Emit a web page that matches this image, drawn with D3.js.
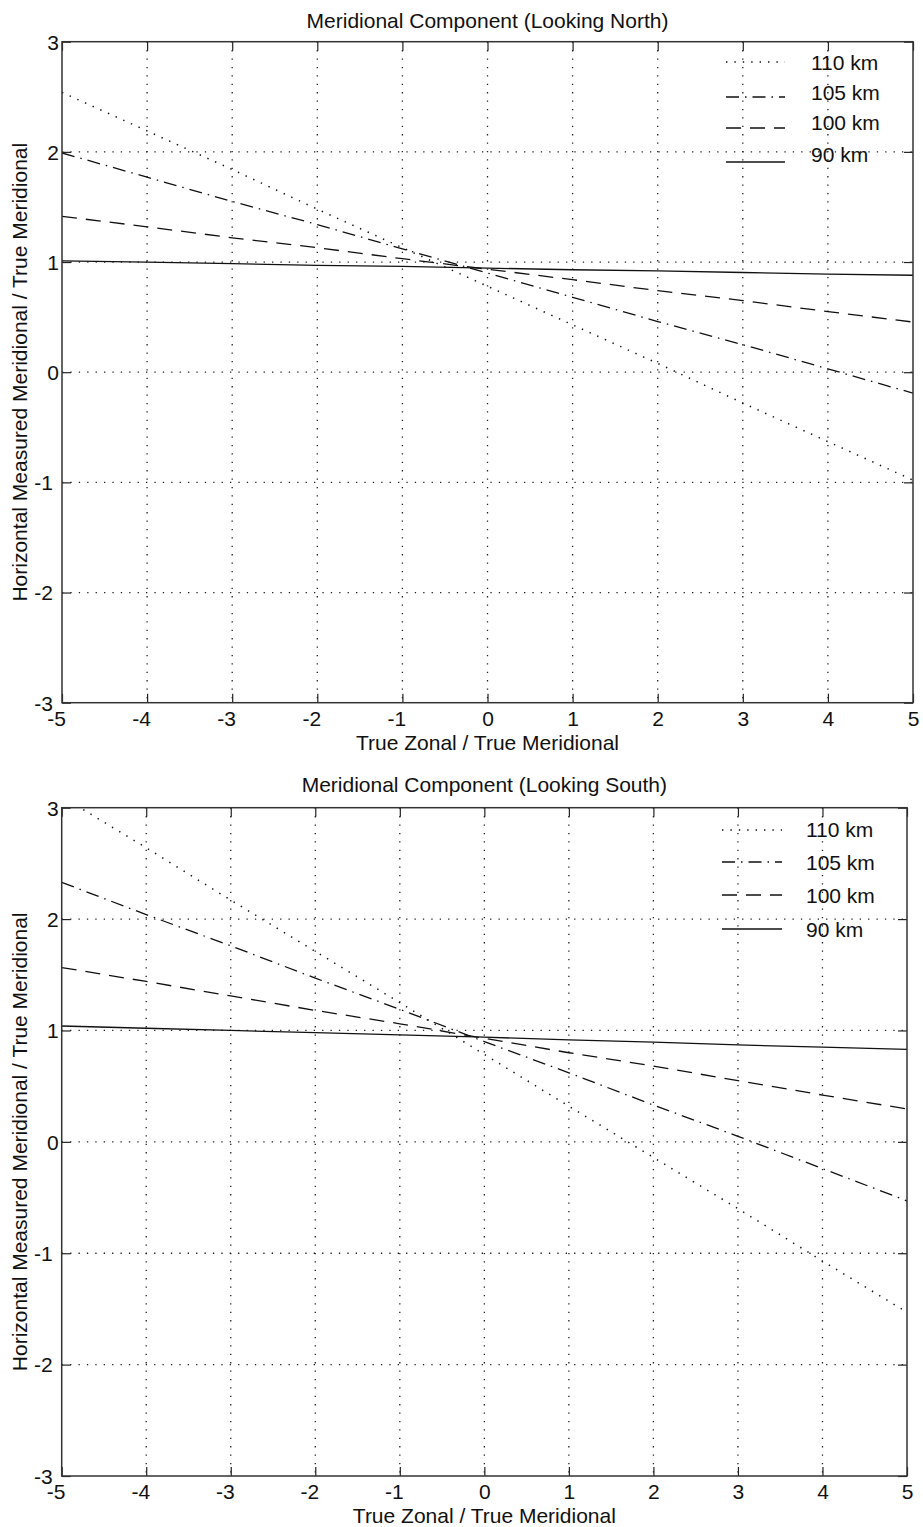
<!DOCTYPE html>
<html>
<head>
<meta charset="utf-8">
<script src="https://cdn.jsdelivr.net/npm/d3@7/dist/d3.min.js"></script>
<style>
  html, body { margin: 0; padding: 0; background: #fff; }
  svg { display: block; }
  text { font-family: "Liberation Sans", Arial, Helvetica, sans-serif; fill: #111; }
</style>
</head>
<body>
<svg id="chart" width="923" height="1527"></svg>
<script>
// Ratio of true zonal to true meridional wind (x axis)
const zonalRatio = [-5, -4, -3, -2, -1, 0, 1, 2, 3, 4, 5];
const xTicks = [-5, -4, -3, -2, -1, 0, 1, 2, 3, 4, 5];
const yTicks = [-3, -2, -1, 0, 1, 2, 3];
const altitudes = ["110 km", "105 km", "100 km", "90 km"];

// Looking north: measured / true meridional for each altitude
const north110 = [2.54, 2.19, 1.84, 1.48, 1.13, 0.78, 0.43, 0.08, -0.28, -0.63, -0.98];
const north105 = [1.99, 1.77, 1.55, 1.34, 1.12, 0.90, 0.68, 0.46, 0.25, 0.03, -0.19];
const north100 = [1.415, 1.32, 1.22, 1.13, 1.03, 0.935, 0.84, 0.74, 0.65, 0.55, 0.455];
const north90  = [1.01, 1.00, 0.985, 0.97, 0.96, 0.945, 0.93, 0.92, 0.905, 0.89, 0.88];

// Looking south
const south110 = [3.10, 2.64, 2.17, 1.71, 1.25, 0.785, 0.32, -0.14, -0.60, -1.07, -1.53];
const south105 = [2.33, 2.04, 1.76, 1.47, 1.19, 0.90, 0.62, 0.33, 0.05, -0.24, -0.53];
const south100 = [1.565, 1.44, 1.31, 1.18, 1.06, 0.93, 0.80, 0.68, 0.55, 0.42, 0.295];
const south90  = [1.04, 1.02, 1.00, 0.98, 0.96, 0.94, 0.915, 0.895, 0.87, 0.85, 0.83];

const titles = ["Meridional Component (Looking North)", "Meridional Component (Looking South)"];
const xLabel = "True Zonal / True Meridional";
const yLabel = "Horizontal Measured Meridional / True Meridional";

// line dash styles per altitude: dotted, dash-dot, dashed, solid
const dashes = ["1.4,7", "13,6,1.5,6", "15,9", null];

const panels = [
  { title: titles[0], series: [north110, north105, north100, north90],
    box: { left: 62, right: 913, top: 41.7, bottom: 702.7 },
    titleY: 28, legendX: [726, 785], legendTextX: 811,
    legendLineY: [62, 97, 128, 162], legendTextY: [70, 100, 130, 162] },
  { title: titles[1], series: [south110, south105, south100, south90],
    box: { left: 61.7, right: 907, top: 807.7, bottom: 1476 },
    titleY: 792, legendX: [722, 782], legendTextX: 806,
    legendLineY: [830, 862, 895, 929], legendTextY: [837, 870, 903, 937] }
];

const svg = d3.select("#chart");
const FS = 21;

panels.forEach((p, pi) => {
  const b = p.box;
  const x = d3.scaleLinear().domain([-5, 5]).range([b.left, b.right]);
  const y = d3.scaleLinear().domain([-3, 3]).range([b.bottom, b.top]);
  const g = svg.append("g");

  const clipId = "clip" + pi;
  g.append("clipPath").attr("id", clipId)
    .append("rect").attr("x", b.left).attr("y", b.top)
    .attr("width", b.right - b.left).attr("height", b.bottom - b.top);

  // dotted grid
  const grid = g.append("g").attr("stroke", "#222").attr("stroke-width", 1.3)
    .attr("stroke-dasharray", "1.3,7.1");
  xTicks.filter(t => t > -5 && t < 5).forEach(t => {
    grid.append("line").attr("x1", x(t)).attr("x2", x(t))
      .attr("y1", b.top).attr("y2", b.bottom);
  });
  yTicks.filter(t => t > -3 && t < 3).forEach(t => {
    grid.append("line").attr("x1", b.left).attr("x2", b.right)
      .attr("y1", y(t)).attr("y2", y(t));
  });

  // series
  const line = d3.line().x((d, i) => x(zonalRatio[i])).y(d => y(d));
  const lines = g.append("g").attr("clip-path", `url(#${clipId})`);
  p.series.forEach((s, si) => {
    lines.append("path").datum(s).attr("d", line)
      .attr("fill", "none").attr("stroke", "#111")
      .attr("stroke-width", si === 0 ? 1.5 : 1.3)
      .attr("stroke-dasharray", dashes[si]);
  });

  // axes with inward ticks
  const tickLen = 9;
  const fmt = d => String(d);
  const ax = g.append("g").attr("transform", `translate(0,${b.bottom})`)
    .call(d3.axisBottom(x).tickValues(xTicks).tickFormat(fmt).tickSizeInner(-tickLen).tickSizeOuter(0));
  ax.selectAll("text").attr("y", 23).attr("dy", null)
    .attr("dx", d => d < 0 ? -6 : 0);
  g.append("g").attr("transform", `translate(0,${b.top})`)
    .call(d3.axisTop(x).tickValues(xTicks).tickFormat("").tickSizeInner(-tickLen).tickSizeOuter(0));
  const ay = g.append("g").attr("transform", `translate(${b.left},0)`)
    .call(d3.axisLeft(y).tickValues(yTicks).tickFormat(fmt).tickSizeInner(-tickLen).tickSizeOuter(0));
  ay.selectAll("text").attr("x", d => d < 0 ? -9 : -3).attr("dy", "0.35em");
  g.append("g").attr("transform", `translate(${b.right},0)`)
    .call(d3.axisRight(y).tickValues(yTicks).tickFormat("").tickSizeInner(-tickLen).tickSizeOuter(0));

  g.selectAll(".domain").remove();
  g.selectAll(".tick line").attr("stroke", "#222").attr("stroke-width", 1.2);
  g.selectAll(".tick text").attr("font-size", FS).attr("font-family", null).attr("fill", "#111");

  // frame
  g.append("rect").attr("x", b.left).attr("y", b.top)
    .attr("width", b.right - b.left).attr("height", b.bottom - b.top)
    .attr("fill", "none").attr("stroke", "#333").attr("stroke-width", 1.5);

  // title and axis labels
  const cx = (b.left + b.right) / 2;
  g.append("text").attr("x", cx).attr("y", p.titleY).attr("text-anchor", "middle")
    .attr("font-size", FS).text(p.title);
  g.append("text").attr("x", cx).attr("y", b.bottom + 47).attr("text-anchor", "middle")
    .attr("font-size", FS).text(xLabel);
  g.append("text").attr("transform", `translate(27,${(b.top + b.bottom) / 2}) rotate(-90)`)
    .attr("text-anchor", "middle").attr("font-size", FS).text(yLabel);

  // legend
  altitudes.forEach((name, i) => {
    g.append("line").attr("x1", p.legendX[0]).attr("x2", p.legendX[1])
      .attr("y1", p.legendLineY[i]).attr("y2", p.legendLineY[i])
      .attr("stroke", "#111").attr("stroke-width", i === 0 ? 1.5 : 1.3)
      .attr("stroke-dasharray", dashes[i]);
    g.append("text").attr("x", p.legendTextX).attr("y", p.legendTextY[i])
      .attr("font-size", FS).text(name);
  });
});
</script>
</body>
</html>
